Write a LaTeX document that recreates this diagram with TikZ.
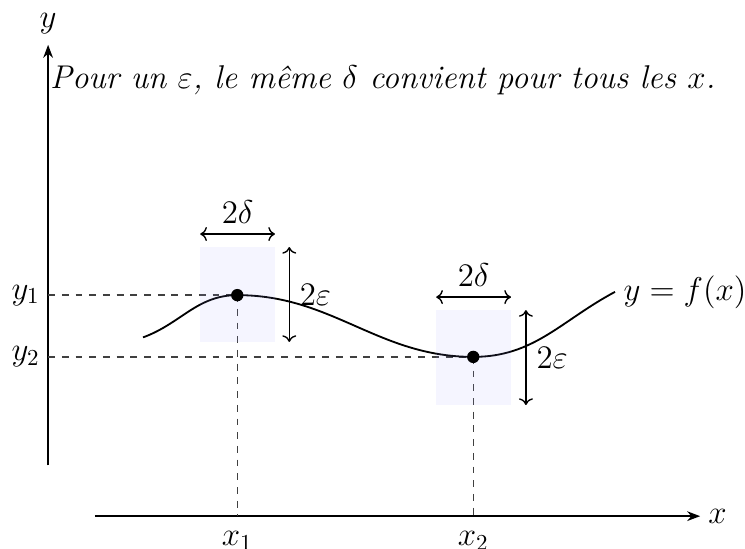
\documentclass[tikz,border=0pt]{standalone}
\usetikzlibrary{arrows.meta,positioning,calc}

\begin{document}
\begin{tikzpicture}[font=\Large,semithick]
\tikzstyle{guide}=[dashed,black!75]
\tikzstyle{zone}=[fill=blue!40!white,fill opacity=0.1]
\tikzstyle{pt}=[circle,fill=black,inner sep=0pt,minimum size=0.19cm]
\useasboundingbox (-0.74,-0.49) rectangle (10.72,7.94);
% axes
\coordinate (xa) at (0.72,0);
\coordinate (xb) at (10.03,0);
\coordinate (ya) at (0,0.78);
\coordinate (yb) at (0,7.25);
\draw[-Stealth] (xa) -- (xb) node[right] (xl) {$x$};
\draw[-Stealth] (ya) -- (yb) node[above=1pt] (yl) {$y$};
% points
\coordinate (p1) at (2.91,3.40);
\coordinate (p2) at (6.54,2.45);
\node[left] (y1) at (0,3.40) {$y_1$};
\node[left] (y2) at (0,2.45) {$y_2$};
\node[below=3pt] (x1) at (2.91,0) {$x_1$};
\node[below=3pt] (x2) at (6.54,0) {$x_2$};
\draw[guide] (y1.east) -- (p1);
\draw[guide] (y2.east) -- (p2);
\draw[guide] (p1) -- (2.91,0);
\draw[guide] (p2) -- (6.54,0);
% curve
\draw[thick] (1.46,2.75) to[out=20,in=180] (p1) to[out=0,in=180] (p2) to[out=0,in=208] (8.72,3.45) node[right] (fl) {$y=f(x)$};
% zones
\fill[zone] (2.34,2.68) rectangle (3.49,4.14);
\fill[zone] (5.97,1.71) rectangle (7.12,3.17);
\node[pt] (d1) at (p1) {};
\node[pt] (d2) at (p2) {};
% 2delta / 2eps
\coordinate (a1) at (2.34,4.34);
\coordinate (b1) at (3.49,4.34);
\draw[<->] (a1) -- node[above=1pt] (dl1) {$2\delta$} (b1);
\coordinate (a2) at (5.97,3.37);
\coordinate (b2) at (7.12,3.37);
\draw[<->] (a2) -- node[above=1pt] (dl2) {$2\delta$} (b2);
\coordinate (c1) at (3.71,4.14);
\coordinate (e1) at (3.71,2.68);
\draw[<->] (c1) -- node[right=1pt] (el1) {$2\varepsilon$} (e1);
\coordinate (c2) at (7.35,3.17);
\coordinate (e2) at (7.35,1.71);
\draw[<->] (c2) -- node[right=1pt] (el2) {$2\varepsilon$} (e2);
\node (txt) at (5.15,6.71) {\textit{Pour un $\varepsilon$, le même $\delta$ convient pour tous les $x$.}};
\end{tikzpicture}
\end{document}
